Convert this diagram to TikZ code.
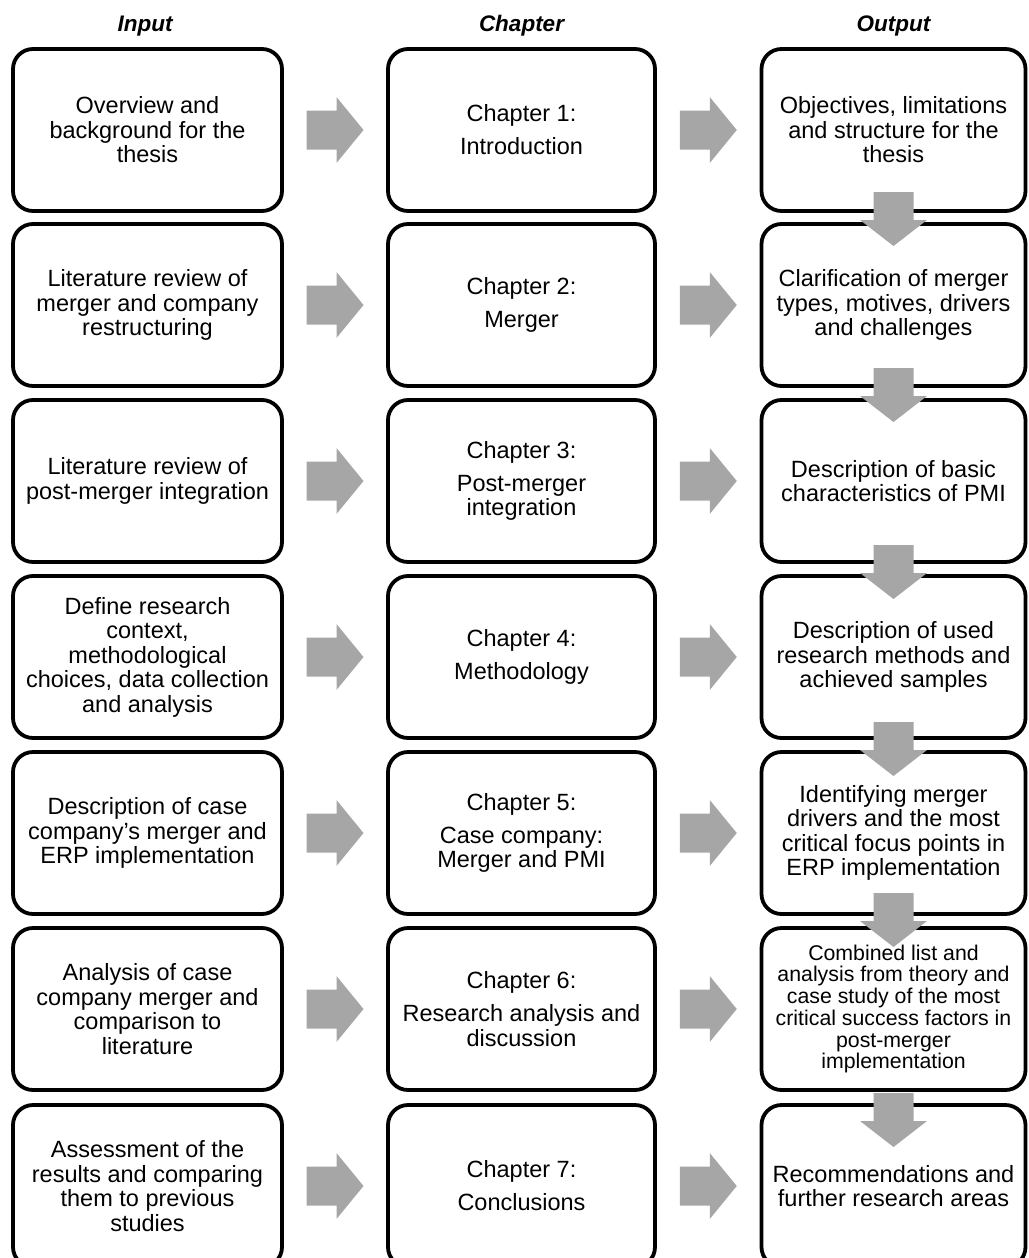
\documentclass[tikz,border=0pt]{standalone}
\usepackage{fontspec}
\setmainfont{Liberation Sans}
\usetikzlibrary{calc}
\definecolor{arrowgray}{RGB}{166,166,166}
\tikzset{
  box/.style={draw=black, line width=3.8pt, rounded corners=20pt, minimum height=162pt,
    inner sep=0pt, outer sep=0pt, align=center, fill=white,
    font=\fontsize{23.5}{24.5}\selectfont},
  boxa/.style={box, minimum width=269pt},
  boxb/.style={box, minimum width=267pt},
  boxc/.style={box, minimum width=264pt},
  hdr/.style={anchor=base, font=\fontsize{22.5}{24}\selectfont\bfseries\itshape},
  rarrow/.pic={\fill[arrowgray] (-28.5,-19.5) -- (1.5,-19.5) -- (1.5,-33) -- (28.5,0)
     -- (1.5,33) -- (1.5,19.5) -- (-28.5,19.5) -- cycle;},
  darrow/.pic={\fill[arrowgray] (-20,0) -- (20,0) -- (20,28) -- (33.5,28) -- (0,54)
     -- (-33.5,28) -- (-20,28) -- cycle;},
}
\begin{document}
\begin{tikzpicture}[x=1pt,y=-1pt]
\useasboundingbox (0,0) rectangle (1028,1258);
\clip (0,0) rectangle (1028,1258);
% headers
\node[hdr] (hin) at (145,31) {Input};
\node[hdr] (hch) at (521.5,31) {Chapter};
\node[hdr] (hout) at (893.5,31) {Output};
% column 1
\node[boxa] (i1) at (147.5,130) {Overview and\\background for the\\thesis};
\node[boxa] (i2) at (147.5,305) {Literature review of\\merger and company\\restructuring};
\node[boxa] (i3) at (147.5,481) {Literature review of\\post-merger integration};
\node[boxa] (i4) at (147.5,657) {Define research\\context,\\methodological\\choices, data collection\\and analysis};
\node[boxa] (i5) at (147.5,833) {Description of case\\company’s merger and\\ERP implementation};
\node[boxa] (i6) at (147.5,1009) {Analysis of case\\company merger and\\comparison to\\literature};
\node[boxa] (i7) at (147.5,1186) {Assessment of the\\results and comparing\\them to previous\\studies};
% column 2
\node[boxb] (c1) at (521.5,130) {Chapter 1:\\[8.5pt]Introduction};
\node[boxb] (c2) at (521.5,305) {Chapter 2:\\[8.5pt]Merger};
\node[boxb] (c3) at (521.5,481) {Chapter 3:\\[8.5pt]Post-merger\\integration};
\node[boxb] (c4) at (521.5,657) {Chapter 4:\\[8.5pt]Methodology};
\node[boxb] (c5) at (521.5,833) {Chapter 5:\\[8.5pt]Case company:\\Merger and PMI};
\node[boxb] (c6) at (521.5,1009) {Chapter 6:\\[8.5pt]Research analysis and\\discussion};
\node[boxb] (c7) at (521.5,1186) {Chapter 7:\\[8.5pt]Conclusions};
% column 3
\node[boxc] (o1) at (893.5,130) {Objectives, limitations\\and structure for the\\thesis};
\node[boxc] (o2) at (893.5,305) {Clarification of merger\\types, motives, drivers\\and challenges};
\node[boxc] (o3) at (893.5,481) {Description of basic\\characteristics of PMI};
\node[boxc] (o4) at (893.5,657) {Description of used\\research methods and\\achieved samples};
\node[boxc] (o5) at (893.5,833) {Identifying merger\\drivers and the most\\critical focus points in\\ERP implementation};
\node[boxc, font=\fontsize{21.3}{21.7}\selectfont] (o6) at (893.5,1009) {Combined list and\\analysis from theory and\\case study of the most\\critical success factors in\\post-merger\\implementation};
\node[boxc] (o7) at (893.5,1186) {Recommendations and\\further research areas};
% right arrows
\foreach \r in {1,...,7}{
  \pic at ($(i\r.east)!0.5!(c\r.west)$) {rarrow};
  \pic at ($(c\r.east)!0.5!(o\r.west)$) {rarrow};
}
% down arrows
\pic at ($(o1.south)+(0,-19)$) {darrow};
\pic at ($(o2.south)+(0,-18)$) {darrow};
\pic at ($(o3.south)+(0,-17)$) {darrow};
\pic at ($(o4.south)+(0,-16)$) {darrow};
\pic at ($(o5.south)+(0,-21)$) {darrow};
\pic at ($(o6.south)+(0,3)$) {darrow};
\end{tikzpicture}
\end{document}
